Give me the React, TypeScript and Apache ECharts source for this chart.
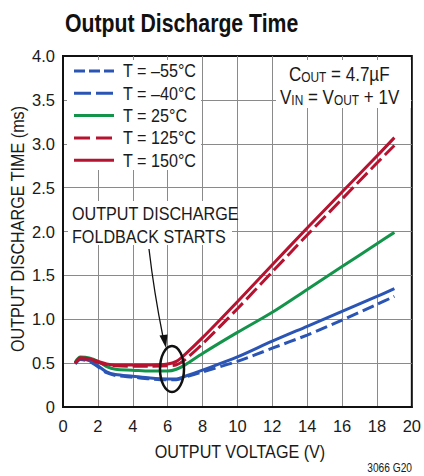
import React, { useEffect, useRef } from "react";
import * as echarts from "echarts";

const xs = [0.7, 1, 1.5, 2, 2.5, 3, 4, 5, 6, 6.5, 7, 8, 10, 12, 14, 16, 18, 19];
const yM55 = [0.49, 0.54, 0.52, 0.46, 0.39, 0.36, 0.34, 0.32, 0.31, 0.31, 0.34, 0.40, 0.52, 0.67, 0.82, 0.99, 1.17, 1.26];
const yM40 = [0.50, 0.55, 0.53, 0.47, 0.40, 0.37, 0.35, 0.33, 0.32, 0.32, 0.35, 0.42, 0.57, 0.75, 0.92, 1.09, 1.26, 1.35];
const y25 = [0.51, 0.57, 0.56, 0.52, 0.46, 0.43, 0.42, 0.41, 0.41, 0.43, 0.48, 0.61, 0.85, 1.08, 1.34, 1.60, 1.86, 1.99];
const y125 = [0.50, 0.55, 0.54, 0.51, 0.48, 0.47, 0.465, 0.465, 0.47, 0.48, 0.54, 0.72, 1.12, 1.54, 1.96, 2.37, 2.78, 2.98];
const y150 = [0.50, 0.56, 0.55, 0.52, 0.49, 0.48, 0.48, 0.48, 0.49, 0.52, 0.60, 0.79, 1.20, 1.62, 2.04, 2.45, 2.86, 3.07];

const seriesNames = ["T = \u201355\u00b0C", "T = \u201340\u00b0C", "T = 25\u00b0C", "T = 125\u00b0C", "T = 150\u00b0C"];
const seriesValues = [yM55, yM40, y25, y125, y150];
const seriesColors = ["#2b55b5", "#2b55b5", "#14944a", "#b5132f", "#b5132f"];
const plotDash: (number[] | null)[] = [[12, 5], null, null, [15, 5], null];
const legendDash: (number[] | null)[] = [[11, 4], [17, 5], null, [16, 6], null];

const xTicks = { min: 0, max: 20, interval: 2 };
const yTicks = { min: 0, max: 4, interval: 0.5 };

const FONT = "'Liberation Sans', Arial, sans-serif";
const SQ = 0.85;

export default function App() {
  const ref = useRef<HTMLDivElement>(null);
  useEffect(() => {
    if (!ref.current) return;
    const chart = echarts.init(ref.current, undefined, { renderer: "svg" });

    const series = seriesValues.map((ys, i) => ({
      name: seriesNames[i],
      type: "line",
      data: xs.map((x, j) => [x, ys[j]]),
      showSymbol: false,
      symbol: "none",
      smooth: 0.3,
      lineStyle: {
        color: seriesColors[i],
        width: 3,
        type: plotDash[i] ? plotDash[i] : "solid",
      },
      z: 3,
    }));

    const txt = (text: string, x: number, y: number, size: number, extra: any = {}) => ({
      type: "text",
      x,
      y,
      scaleX: SQ,
      style: {
        text,
        fill: "#1a1a1a",
        font: `${size}px ${FONT}`,
        verticalAlign: "middle",
        ...(extra.style || {}),
      },
      z: 101,
      ...(extra.el || {}),
    });

    const legendGraphics: any[] = [];
    seriesNames.forEach((n, i) => {
      const y = 71 + i * 22.3;
      legendGraphics.push({
        type: "line",
        shape: { x1: 74, y1: y, x2: 114, y2: y },
        style: {
          stroke: seriesColors[i],
          lineWidth: 3,
          lineDash: legendDash[i] ? legendDash[i] : null,
        },
        z: 101,
      });
      legendGraphics.push(txt(n, 123, y, 19));
    });

    const subRich = {
      s: { fontFamily: FONT, fontSize: 14, lineHeight: 14, verticalAlign: "bottom", fill: "#1a1a1a" },
    };

    const option: any = {
      animation: false,
      backgroundColor: "#ffffff",
      grid: {
        left: 63,
        right: 9,
        top: 56,
        bottom: 69,
        show: true,
        borderColor: "#111",
        borderWidth: 2,
        containLabel: false,
      },
      xAxis: {
        type: "value",
        min: xTicks.min,
        max: xTicks.max,
        interval: xTicks.interval,
        axisLine: { show: true, lineStyle: { color: "#111", width: 2 } },
        axisTick: { show: false },
        axisLabel: { fontFamily: FONT, fontSize: 16.5, color: "#1a1a1a", margin: 10 },
        splitLine: {
          show: true,
          showMinLine: false,
          showMaxLine: false,
          lineStyle: { color: "#8a8a8a", width: 1 },
        },
      },
      yAxis: {
        type: "value",
        min: yTicks.min,
        max: yTicks.max,
        interval: yTicks.interval,
        axisLine: { show: true, lineStyle: { color: "#111", width: 2 } },
        axisTick: { show: false },
        axisLabel: {
          fontFamily: FONT,
          fontSize: 16.5,
          color: "#1a1a1a",
          margin: 8,
          formatter: (v: number) => (v === 0 ? "0" : v.toFixed(1)),
        },
        splitLine: {
          show: true,
          showMinLine: false,
          showMaxLine: false,
          lineStyle: { color: "#8a8a8a", width: 1 },
        },
      },
      series,
      graphic: [
        {
          type: "text",
          x: 65,
          y: 23,
          scaleX: SQ,
          style: {
            text: "Output Discharge Time",
            fill: "#111",
            font: `bold 25px ${FONT}`,
            verticalAlign: "middle",
          },
        },
        txt("OUTPUT VOLTAGE (V)", 240, 452, 19, { style: { align: "center" } }),
        txt("OUTPUT DISCHARGE TIME (ms)", 18, 229, 19, {
          style: { align: "center" },
          el: { rotation: Math.PI / 2 },
        }),
        { type: "rect", shape: { x: 67, y: 60, width: 134, height: 110 }, style: { fill: "#fff" }, z: 100 },
        ...legendGraphics,
        { type: "rect", shape: { x: 276, y: 60, width: 135, height: 48 }, style: { fill: "#fff" }, z: 100 },
        txt("C{s|OUT} = 4.7\u00b5F", 289, 74, 20, { style: { rich: subRich } }),
        txt("V{s|IN} = V{s|OUT} + 1V", 280, 97, 20, { style: { rich: subRich } }),
        { type: "rect", shape: { x: 68, y: 201, width: 164, height: 44 }, style: { fill: "#fff" }, z: 100 },
        txt("OUTPUT DISCHARGE", 72, 214, 19),
        txt("FOLDBACK STARTS", 72, 237, 19),
        {
          type: "bezierCurve",
          shape: { x1: 149, y1: 249, cpx1: 154, cpy1: 292, x2: 163, y2: 337 },
          style: { stroke: "#111", lineWidth: 1.3, fill: null },
          z: 101,
        },
        {
          type: "polygon",
          shape: { points: [[166, 348], [159.5, 335.5], [167.5, 334.5]] },
          style: { fill: "#111" },
          z: 101,
        },
        {
          type: "ellipse",
          shape: { cx: 172, cy: 369, rx: 12, ry: 23 },
          style: { stroke: "#111", lineWidth: 2.5, fill: null },
          z: 101,
        },
        txt("3066 G20", 412, 468, 12, { style: { align: "right" } }),
      ],
    };
    chart.setOption(option);
    return () => chart.dispose();
  }, []);
  return (
    <div
      ref={ref}
      style={{ position: "fixed", left: 0, top: 0, width: 424, height: 476, background: "#fff" }}
    />
  );
}
